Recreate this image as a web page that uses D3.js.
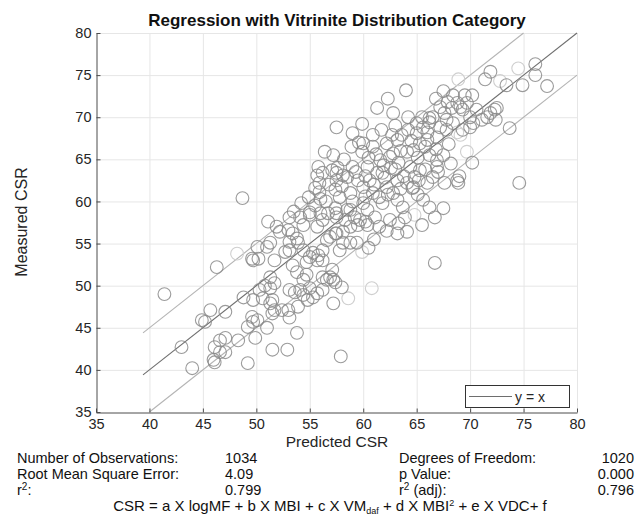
<!DOCTYPE html>
<html>
<head>
<meta charset="utf-8">
<script src="https://cdn.jsdelivr.net/npm/d3@7"></script>
<style>
  html, body { margin: 0; padding: 0; background: #fff; }
  svg { display: block; font-family: "Liberation Sans", Arial, sans-serif; }
</style>
</head>
<body>
<svg id="chart" width="643" height="529"></svg>
<script>
// ── data ───────────────────────────────────────────────────────────────────
const predicted = [
  76.1,76.1,73.4,74.9,77.2,71.9,71.4,64.0,67.5,66.8,68.4,69.5,70.2,62.3,61.3,62.8,64.2,65.5,66.2,67.6,
  68.3,69.1,69.7,70.6,71.6,72.3,72.4,73.7,57.5,59.0,59.9,60.9,62.7,63.6,65.0,66.0,66.9,67.8,
  57.2,57.1,57.6,58.1,57.5,58.5,59.0,59.9,60.4,60.6,59.5,61.6,61.9,61.8,62.8,63.3,64.1,64.4,65.1,65.8,
  66.2,66.9,66.9,70.2,65.3,64.8,63.2,62.2,62.3,64.1,64.6,65.1,67.6,68.8,68.9,74.6,67.5,66.7,63.9,60.4,
  61.1,58.8,59.2,57.5,
  60.0,60.9,62.2,63.2,64.2,65.0,65.6,66.2,65.3,66.0,64.7,62.5,61.3,60.0,58.8,57.8,60.9,61.8,63.2,63.7,
  65.6,66.2,66.0,66.5,64.7,67.2,67.9,68.8,69.3,70.0,71.1,70.3,71.9,72.5,67.8,68.4,67.2,66.5,69.3,70.0,
  63.3,63.2,64.1,66.7,58.0,57.2,57.9,60.2,60.4,57.5,58.3,57.4,58.1,58.8,59.5,58.8,57.8,57.1,57.2,58.1,
  59.4,59.7,57.4,58.5,60.0,
  48.7,41.4,43.0,44.0,44.9,45.2,45.7,46.3,47.1,46.6,47.1,46.1,46.6,47.1,46.0,46.1,48.3,49.2,48.8,49.2,
  49.6,50.1,49.7,49.9,51.0,51.5,52.9,53.8,51.5,52.4,53.0,53.1,49.7,50.3,50.8,51.3,50.6,51.5,51.3,51.7,
  51.3,51.7,49.7,50.2,49.6,51.7,50.1,51.0,51.3,51.1,52.2,51.9,53.0,53.1,53.8,53.1,54.1,55.0,56.0,56.7,
  52.7,53.1,53.9,53.4,53.8,54.7,55.0,55.8,56.2,53.1,53.6,54.1,54.4,55.0,55.7,56.2,54.4,54.7,53.9,54.8,
  55.3,56.2,56.6,56.9,57.4,53.4,54.4,55.3,55.7,56.2,56.6,56.9,57.5,56.2,55.7,54.4,
  56.4,55.8,55.7,56.2,55.9,57.5,57.4,55.5,55.9,55.0,54.9,56.5,55.5,61.5,62.2,61.0,60.5,
  59.3,60.2,61.0,62.0,63.0,63.8,62.6,61.2,60.5,58.2,58.9,59.6,61.7,63.0,64.5,63.5,66.8,67.5,68.0,67.0,
  68.2,69.0,65.8,65.2,63.5,62.8,61.5,60.2,59.0,58.0,56.8,56.0,54.2,53.5,65.5,62.5
];
const measured = [
  76.3,75.0,73.8,73.8,73.7,75.4,74.5,73.2,73.1,72.2,72.6,72.6,72.6,72.2,71.1,70.5,70.0,70.0,69.9,70.5,
  71.1,71.2,71.7,70.9,70.0,70.9,69.7,68.7,68.8,68.1,69.2,67.9,67.9,67.9,68.1,68.2,67.6,68.5,
  65.5,63.7,64.0,63.1,62.5,62.9,64.1,65.9,64.1,62.5,62.5,64.9,64.3,63.4,65.7,64.6,65.9,64.1,65.2,66.5,
  65.5,64.9,64.1,64.6,63.7,62.9,62.5,61.7,60.8,62.2,61.6,60.8,62.2,62.5,62.2,62.2,59.2,58.1,58.1,59.0,
  58.1,59.0,58.1,58.6,
  66.9,66.5,66.9,67.3,68.5,69.3,68.8,69.4,66.9,67.3,66.1,65.3,63.4,61.7,61.0,60.5,61.0,59.8,60.2,59.3,
  60.2,59.3,62.2,62.9,61.7,71.2,71.8,71.7,70.9,70.0,69.7,69.3,70.5,71.1,69.7,69.3,68.8,70.0,68.5,68.8,
  57.4,56.2,56.4,52.7,49.8,47.9,41.6,57.6,57.2,58.1,57.8,56.2,56.4,57.0,57.2,55.1,54.2,51.9,50.7,55.1,
  55.1,57.8,59.2,59.0,59.8,
  60.4,49.0,42.7,40.2,45.9,45.7,47.1,52.2,46.9,43.5,43.8,42.7,42.1,42.1,41.2,40.9,43.5,40.8,48.6,45.1,
  46.3,45.9,45.7,43.8,45.0,42.4,42.4,44.4,46.7,47.1,47.1,46.2,48.3,49.5,50.0,49.7,48.5,48.3,47.9,47.1,
  51.0,50.3,53.0,53.2,53.2,53.0,54.6,54.6,55.1,57.6,56.4,57.0,56.6,55.2,55.6,58.1,58.1,58.7,58.6,58.6,
  54.0,54.2,55.1,52.4,51.6,52.8,53.4,53.6,53.0,49.5,49.2,49.5,48.9,49.7,49.1,49.5,50.7,51.3,47.5,48.3,
  48.6,51.0,50.7,51.0,50.4,56.2,54.2,53.9,53.0,54.2,55.4,55.8,56.2,57.8,57.0,57.2,
  65.9,64.1,63.1,63.4,62.2,63.4,61.4,61.6,61.1,58.4,60.5,60.0,59.5,57.0,56.5,55.5,54.5,
  63.5,63.0,62.0,62.8,63.8,63.0,64.0,65.6,65.2,65.0,66.5,67.0,68.5,69.0,67.2,66.0,66.2,65.5,66.8,63.5,
  64.5,63.0,63.8,62.5,61.5,61.0,60.5,60.6,60.0,61.8,62.0,60.3,59.8,58.8,57.2,57.8
];
// fainter circles
const faintPredicted = [74.5, 68.9, 72.8, 69.1, 68.8, 69.7, 64.8, 60.8, 58.6, 59.9, 48.2];
const faintMeasured  = [75.8, 74.5, 74.3, 67.9, 68.2, 65.9, 58.4, 49.7, 48.5, 54.0, 53.8];

const ticks = [35, 40, 45, 50, 55, 60, 65, 70, 75, 80];
const refLines = [
  { name: 'upper', offset: 5,  from: 39.4, to: 75 },
  { name: 'ident', offset: 0,  from: 39.4, to: 80 },
  { name: 'lower', offset: -5, from: 40,   to: 80 }
];
const statsLeft  = [['Number of Observations:', '1034'], ['Root Mean Square Error:', '4.09'], ['r2:', '0.799']];
const statsRight = [['Degrees of Freedom:', '1020'], ['p Value:', '0.000'], ['r2 (adj):', '0.796']];

// ── layout ────────────────────────────────────────────────────────────────
const svg = d3.select('#chart');
const X0 = 96, X1 = 577, Y0 = 33, Y1 = 412;
const x = d3.scaleLinear().domain([35, 80]).range([X0, X1]);
const y = d3.scaleLinear().domain([35, 80]).range([Y1, Y0]);
const TXT = '#262626';

// grid
const grid = svg.append('g').attr('stroke', '#e6e6e6').attr('stroke-width', 1);
grid.selectAll('.gx').data(ticks.slice(1)).join('line')
  .attr('x1', d => x(d) + 0.5).attr('x2', d => x(d) + 0.5).attr('y1', Y0).attr('y2', Y1);
grid.selectAll('.gy').data(ticks.slice(1)).join('line')
  .attr('y1', d => y(d) + 0.5).attr('y2', d => y(d) + 0.5).attr('x1', X0).attr('x2', X1);

// reference lines
svg.append('g').selectAll('line').data(refLines).join('line')
  .attr('x1', d => x(d.from)).attr('y1', d => y(d.from + d.offset))
  .attr('x2', d => x(d.to)).attr('y2', d => y(d.to + d.offset))
  .attr('stroke', d => d.offset === 0 ? '#6e6e6e' : '#b4b4b4')
  .attr('stroke-width', 1.1);

// points
const pts = predicted.map((p, i) => ({ p, m: measured[i] }));
const faint = faintPredicted.map((p, i) => ({ p, m: faintMeasured[i] }));
svg.append('g').selectAll('circle').data(faint).join('circle')
  .attr('cx', d => x(d.p)).attr('cy', d => y(d.m)).attr('r', 6.4)
  .attr('fill', 'none').attr('stroke', '#cfcfcf').attr('stroke-width', 1.1);
svg.append('g').selectAll('circle').data(pts).join('circle')
  .attr('cx', d => x(d.p)).attr('cy', d => y(d.m)).attr('r', 6.4)
  .attr('fill', 'none').attr('stroke', '#8a8a8a').attr('stroke-opacity', 0.85).attr('stroke-width', 1.1);

// axes (MATLAB style: inward ticks, left + bottom only)
const xAxis = svg.append('g').attr('transform', `translate(0,${Y1 + 0.5})`)
  .call(d3.axisBottom(x).tickValues(ticks).tickSizeInner(-4).tickSizeOuter(0).tickPadding(6));
const yAxis = svg.append('g').attr('transform', `translate(${X0 + 0.5},0)`)
  .call(d3.axisLeft(y).tickValues(ticks).tickSizeInner(-4).tickSizeOuter(0).tickPadding(5));
[xAxis, yAxis].forEach(a => {
  a.select('.domain').attr('stroke', '#4d4d4d');
  a.selectAll('.tick line').attr('stroke', '#4d4d4d');
  a.selectAll('.tick text').attr('fill', TXT).style('font-size', '14.5px')
    .style('font-family', '"Liberation Sans", Arial, sans-serif');
});

// legend
const lg = svg.append('g');
lg.append('rect').attr('x', 465.5).attr('y', 385.5).attr('width', 104).attr('height', 22)
  .attr('fill', '#fff').attr('stroke', '#333').attr('stroke-width', 1);
lg.append('line').attr('x1', 469).attr('x2', 512).attr('y1', 396.5).attr('y2', 396.5)
  .attr('stroke', '#6e6e6e').attr('stroke-width', 1.1);
lg.append('text').attr('x', 515).attr('y', 401.5).attr('fill', TXT)
  .style('font-size', '14px').text('y = x');

// titles
svg.append('text').attr('x', 337).attr('y', 26).attr('text-anchor', 'middle')
  .attr('fill', '#111').style('font-size', '17px').style('font-weight', 'bold')
  .text('Regression with Vitrinite Distribution Category');
svg.append('text').attr('x', 337).attr('y', 447).attr('text-anchor', 'middle')
  .attr('fill', TXT).style('font-size', '15.5px').text('Predicted CSR');
svg.append('text').attr('transform', 'translate(27,222) rotate(-90)').attr('text-anchor', 'middle')
  .attr('fill', TXT).style('font-size', '16px').text('Measured CSR');

// stats block
function label(sel, s) {
  // renders "r2" with superscript 2
  if (s.startsWith('r2')) {
    sel.append('tspan').text('r');
    sel.append('tspan').attr('dy', -5).style('font-size', '10px').text('2');
    sel.append('tspan').attr('dy', 5).text(s.slice(2));
  } else sel.text(s);
}
const rowY = [463, 479, 495];
const stats = svg.append('g').attr('fill', '#111').style('font-size', '14.5px');
statsLeft.forEach((r, i) => {
  label(stats.append('text').attr('x', 17).attr('y', rowY[i]), r[0]);
  stats.append('text').attr('x', 225).attr('y', rowY[i]).text(r[1]);
});
statsRight.forEach((r, i) => {
  label(stats.append('text').attr('x', 399).attr('y', rowY[i]), r[0]);
  stats.append('text').attr('x', 634).attr('y', rowY[i]).attr('text-anchor', 'end').text(r[1]);
});

// formula
const f = svg.append('text').attr('x', 330).attr('y', 511).attr('text-anchor', 'middle')
  .attr('fill', '#111').style('font-size', '15px');
f.append('tspan').text('CSR = a X logMF + b X MBI + c X VM');
f.append('tspan').attr('dy', 3).style('font-size', '9px').text('daf');
f.append('tspan').attr('dy', -3).text(' + d X MBI');
f.append('tspan').attr('dy', -5).style('font-size', '9px').text('2');
f.append('tspan').attr('dy', 5).text(' + e X VDC+ f');
</script>
</body>
</html>
